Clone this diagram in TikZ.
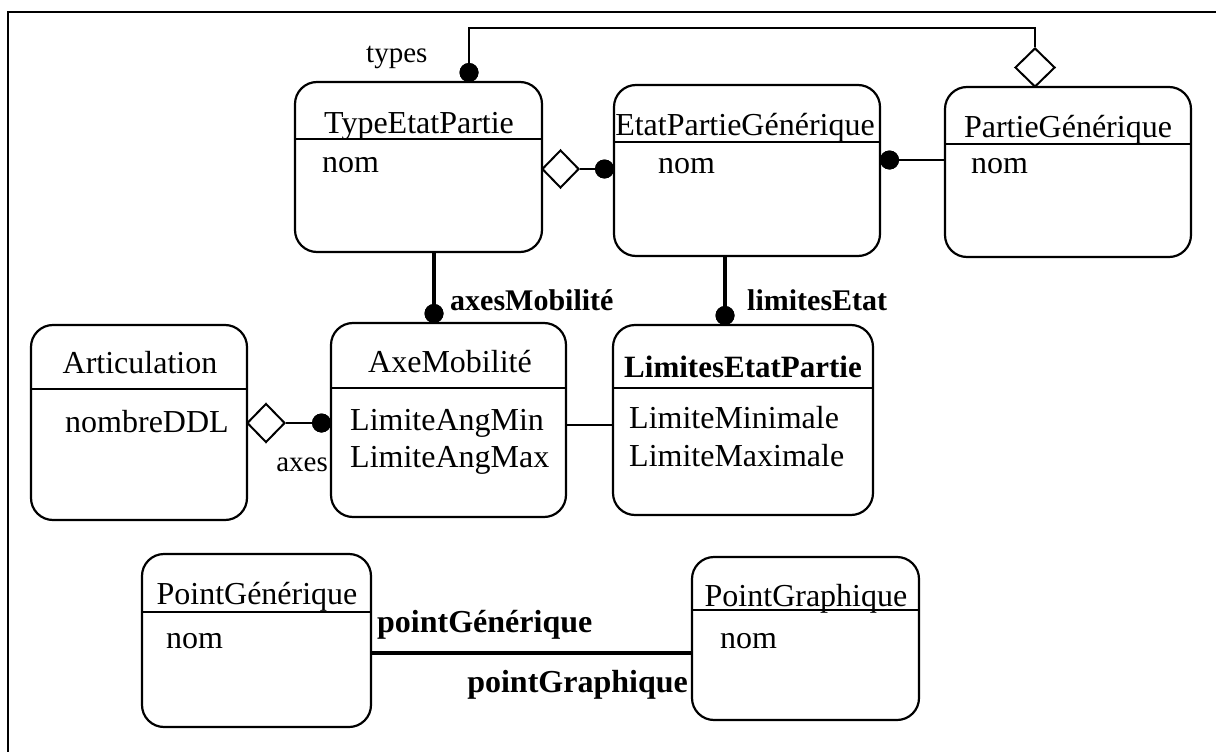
\documentclass[tikz,border=0pt]{standalone}
\usepackage{fontspec}
\setmainfont{Liberation Serif}
\usetikzlibrary{shapes.geometric}
\begin{document}
\begin{tikzpicture}[x=1pt,y=-1pt,
  cls/.style={draw, line width=2.2pt, rounded corners=22pt, inner sep=0pt},
  hdr/.style={line width=2pt},
  txt/.style={inner sep=0pt, font=\fontsize{32}{37}\selectfont},
  ttl/.style={txt, anchor=base},
  att/.style={txt, anchor=base west},
  lbl/.style={inner sep=0pt, font=\fontsize{30}{36}\selectfont\bfseries},
  blbl/.style={inner sep=0pt, font=\fontsize{32}{37}\selectfont\bfseries},
  slbl/.style={inner sep=0pt, font=\fontsize{29}{34}\selectfont},
  thin/.style={line width=2pt},
  thick/.style={line width=4pt},
  dot/.style={circle, fill=black, draw=none, minimum size=19pt, inner sep=0pt},
  agg/.style={diamond, draw, fill=white, line width=2pt, inner sep=0pt}
]
\useasboundingbox (0,0) rectangle (1216,752);
% frame
\draw[line width=2.6pt] (8,752) -- (8,12) -- (1216,12);

% classes
\node[cls, minimum width=247pt, minimum height=170pt] (tep) at (418.5,167) {};
\draw[hdr] (295,139) -- (542,139);
\node[ttl] (teptitle) at (419,133) {TypeEtatPartie};
\node[att] (tepnom) at (322,172) {nom};

\node[cls, minimum width=266pt, minimum height=171pt] (epg) at (747,170.5) {};
\draw[hdr] (614,142) -- (880,142);
\node[ttl] (epgtitle) at (745,135) {EtatPartieGénérique};
\node[att] (epgnom) at (658,173) {nom};

\node[cls, minimum width=246pt, minimum height=170pt] (pg) at (1068,172) {};
\draw[hdr] (945,144) -- (1191,144);
\node[ttl] (pgtitle) at (1068,137) {PartieGénérique};
\node[att] (pgnom) at (971,173) {nom};

\node[cls, minimum width=216pt, minimum height=195pt] (art) at (139,422.5) {};
\draw[hdr] (31,389) -- (247,389);
\node[ttl] (arttitle) at (140,373) {Articulation};
\node[att] (artddl) at (65,432) {nombreDDL};

\node[cls, minimum width=235pt, minimum height=194pt] (axe) at (448.5,420) {};
\draw[hdr] (331,388) -- (566,388);
\node[ttl] (axetitle) at (450,372) {AxeMobilité};
\node[att] (axemin) at (350,430) {LimiteAngMin};
\node[att] (axemax) at (350,467) {LimiteAngMax};

\node[cls, minimum width=260pt, minimum height=190pt] (lep) at (743,420) {};
\draw[hdr] (613,388) -- (873,388);
\node[ttl, font=\fontsize{31}{36}\selectfont\bfseries] (leptitle) at (743,377) {LimitesEtatPartie};
\node[att] (lepmin) at (629,428) {LimiteMinimale};
\node[att] (lepmax) at (629,466) {LimiteMaximale};

\node[cls, minimum width=229pt, minimum height=173pt] (pgen) at (256.5,640.5) {};
\draw[hdr] (142,612) -- (371,612);
\node[ttl] (pgentitle) at (257,604) {PointGénérique};
\node[att] (pgennom) at (166,648) {nom};

\node[cls, minimum width=227pt, minimum height=163pt] (pgra) at (805.5,638.5) {};
\node[ttl] (pgratitle) at (806,606) {PointGraphique};
\draw[hdr] (692,610) -- (919,610);
\node[att] (pgranom) at (720,648) {nom};

% aggregation diamonds
\node[agg, minimum width=40pt, minimum height=39pt] (dm1) at (1035,67.5) {};
\node[agg, minimum width=37pt, minimum height=38pt] (dm2) at (560.5,169) {};
\node[agg, minimum width=38pt, minimum height=39pt] (dm3) at (266,423) {};

% dots
\node[dot] (d1) at (469,72.5) {};
\node[dot] (d2) at (604.5,169) {};
\node[dot] (d3) at (889.5,160) {};
\node[dot] (d4) at (434,313.5) {};
\node[dot] (d5) at (725,315.5) {};
\node[dot] (d6) at (321.5,423) {};

% connectors
\coordinate (t1) at (469,28);
\coordinate (t2) at (1035,28);
\draw[thin] (d1.center) -- (t1) -- (t2) -- (dm1.north);
\draw[thin] (dm2.east) -- (d2.center);
\draw[thin] (d3.center) -- (d3 -| pg.west);
\draw[thick] (d4.center) -- (d4 |- tep.south);
\draw[thick] (d5.center) -- (d5 |- epg.south);
\draw[thin] (dm3.east) -- (d6.center);
\coordinate (a1) at ([yshift=-5pt]axe.east);
\draw[thin] (a1) -- (a1 -| lep.west);
\coordinate (p1) at ([yshift=-12.5pt]pgen.east);
\draw[thick] (p1) -- (p1 -| pgra.west);
% redraw dots over line ends
\node[dot] at (d1) {};
\node[dot] at (d2) {};
\node[dot] at (d3) {};
\node[dot] at (d4) {};
\node[dot] at (d5) {};
\node[dot] at (d6) {};

% labels
\node[slbl, anchor=base west] (ltypes) at (366,63) {types};
\node[lbl, anchor=base west] (laxesmob) at (450,310) {axesMobilité};
\node[lbl, anchor=base west] (llimetat) at (747,310) {limitesEtat};
\node[slbl, anchor=base east] (laxes) at (328,471) {axes};
\node[blbl, anchor=base west] (lpgen) at (377,632) {pointGénérique};
\node[blbl, anchor=base east] (lpgra) at (688,692) {pointGraphique};
\end{tikzpicture}
\end{document}
